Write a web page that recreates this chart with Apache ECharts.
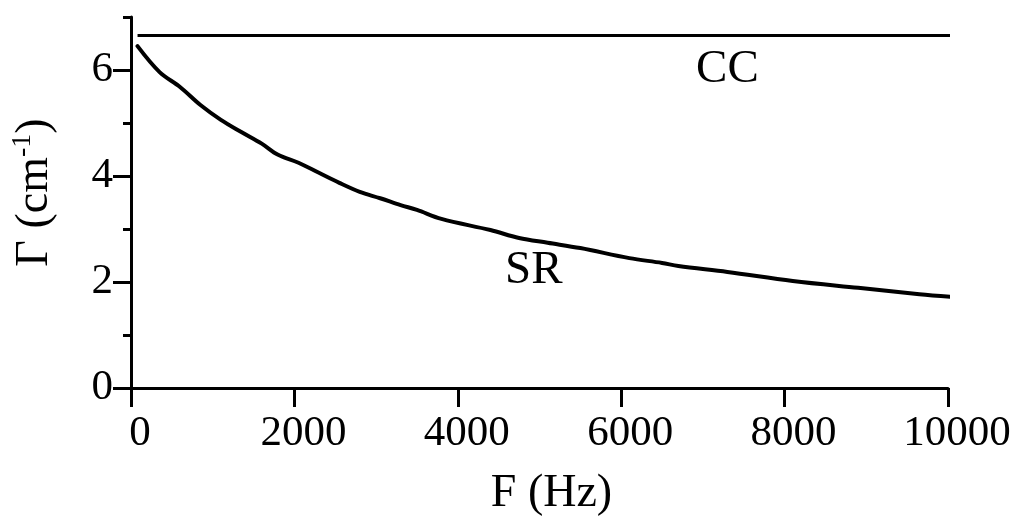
<!DOCTYPE html>
<html><head><meta charset="utf-8">
<script src="https://cdn.jsdelivr.net/npm/echarts@6/dist/echarts.min.js"></script>
<style>html,body{margin:0;padding:0;background:#fff}#c{width:1030px;height:519px}</style>
</head><body><div id="c"></div>
<script>
// Data
const freqHz  = [80, 350, 600, 850, 1100, 1350, 1600, 1800, 2050, 2300, 2550, 2800, 3050, 3300, 3500, 3800, 4400, 4750, 5100, 5500, 6100, 6500, 6700, 7300, 8100, 8900, 9650, 10050];
const gammaSR = [6.45, 5.96, 5.68, 5.34, 5.06, 4.83, 4.61, 4.40, 4.25, 4.06, 3.87, 3.70, 3.58, 3.45, 3.36, 3.19, 2.98, 2.83, 2.74, 2.64, 2.45, 2.36, 2.30, 2.19, 2.02, 1.89, 1.77, 1.72];
const ccFreq  = [80, 10080];
const ccGamma = [6.65, 6.65];
const xTicks = [0, 2000, 4000, 6000, 8000, 10000];
const yMajorTicks = [0, 2, 4, 6];
const yMinorTicks = [1, 3, 5, 7];
const curveLabels = ['CC', 'SR'];
const labelFreq = [7300, 4930];
const labelGamma = [6.0, 2.21];

const FONT = 'Liberation Serif';
const srData = freqHz.map((f, i) => [f, gammaSR[i]]);
const ccData = ccFreq.map((f, i) => [f, ccGamma[i]]);
const labelData = curveLabels.map((t, i) => [labelFreq[i], labelGamma[i], t]);

const chart = echarts.init(document.getElementById('c'), null, {renderer: 'canvas'});
chart.setOption({
  animation: false,
  backgroundColor: '#fff',
  grid: {left: 131, right: 82, top: 17, bottom: 131, outerBoundsMode: 'none', containLabel: false},
  xAxis: {
    type: 'value', min: xTicks[0], max: xTicks[xTicks.length - 1], interval: 2000,
    name: 'F (Hz)', nameLocation: 'middle', nameGap: 83,
    nameTextStyle: {fontFamily: FONT, fontSize: 46, color: '#000', padding: [0, 0, 0, 24]},
    axisLine: {show: true, onZero: false, lineStyle: {color: '#000', width: 3}},
    axisTick: {show: true, inside: false, length: 19, lineStyle: {color: '#000', width: 3}},
    axisLabel: {show: true, margin: 24, fontFamily: FONT, fontSize: 43, color: '#000', padding: [0, 0, 0, 18],
      showMinLabel: true, showMaxLabel: true, formatter: v => String(v)},
    splitLine: {show: false}
  },
  yAxis: [{
    type: 'value', min: 0, max: 7, interval: 1, position: 'left',
    name: '{a|Γ (cm}{s|-1}{a|)}', nameLocation: 'middle', nameGap: 70, nameRotate: 90,
    nameTextStyle: {fontFamily: FONT, fontSize: 46, color: '#000', padding: [0, 0, 0, 20],
      rich: {
        a: {fontFamily: FONT, fontSize: 46, color: '#000'},
        s: {fontFamily: FONT, fontSize: 28, color: '#000', verticalAlign: 'bottom', padding: [0, 0, 24, 0]}
      }},
    axisLine: {show: true, onZero: false, lineStyle: {color: '#000', width: 3}},
    axisTick: {show: true, inside: false, length: 18, customValues: yMajorTicks, lineStyle: {color: '#000', width: 3}},
    axisLabel: {show: true, margin: 18, fontFamily: FONT, fontSize: 43, color: '#000', customValues: yMajorTicks},
    splitLine: {show: false}
  }, {
    type: 'value', min: 0, max: 7, interval: 1, position: 'left', offset: 0,
    axisLine: {show: false},
    axisTick: {show: true, inside: false, length: 8, customValues: yMinorTicks, lineStyle: {color: '#000', width: 3}},
    axisLabel: {show: false},
    splitLine: {show: false}
  }],
  series: [{
    name: 'CC', type: 'line', data: ccData, showSymbol: false, clip: false, yAxisIndex: 0,
    lineStyle: {color: '#000', width: 3}, itemStyle: {color: '#000'}
  }, {
    name: 'SR', type: 'line', data: srData, showSymbol: false, clip: false, yAxisIndex: 0, smooth: 0.35,
    lineStyle: {color: '#000', width: 4, join: 'round', cap: 'round'}, itemStyle: {color: '#000'}
  }, {
    name: 'labels', type: 'scatter', data: labelData, symbol: 'circle', symbolSize: 0, yAxisIndex: 0,
    itemStyle: {color: '#000', opacity: 1},
    label: {show: true, position: 'inside', formatter: p => p.data[2], fontFamily: FONT, fontSize: 47,
      color: '#000', opacity: 1, textBorderWidth: 0}
  }]
});
</script></body></html>
